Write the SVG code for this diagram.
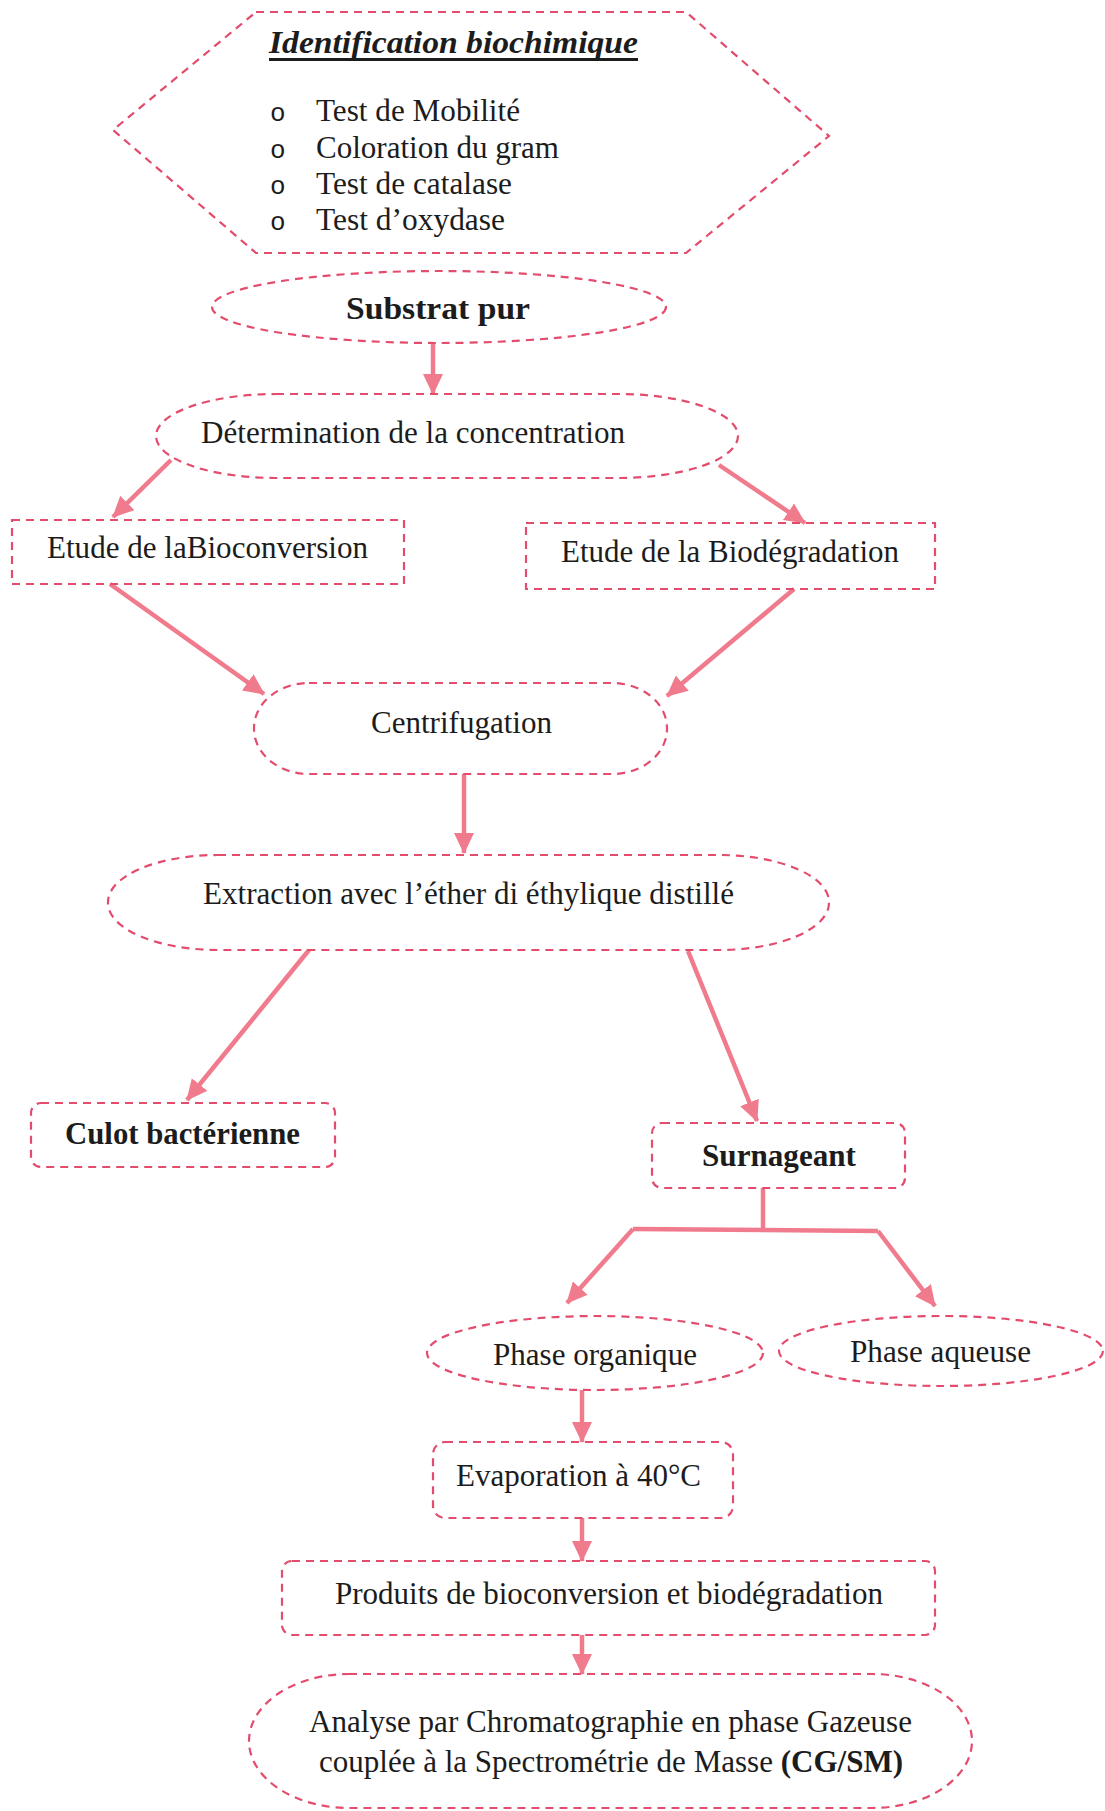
<svg xmlns="http://www.w3.org/2000/svg" width="1105" height="1811" viewBox="0 0 1105 1811">
<defs>
<style>
.nd{fill:none;stroke:#e34c6c;stroke-width:2.2;stroke-dasharray:8 6}
.t{font-family:"Liberation Serif","Times New Roman",serif;font-size:31px;fill:#1c1c1c}
.b{font-weight:bold}
.o{font-family:"Liberation Mono","Courier New",monospace;font-size:26px;fill:#1c1c1c}
.c{fill:none;stroke:#f07b8d;stroke-width:4.5}
</style>
<marker id="ah" markerUnits="userSpaceOnUse" markerWidth="24" markerHeight="22" refX="20" refY="10" orient="auto">
<path d="M0,0 L21,10 L0,20 Z" fill="#f07b8d"/>
</marker>
</defs>
<rect width="1105" height="1811" fill="#ffffff"/>

<g id="connectors">
<line class="c" x1="433" y1="344" x2="433" y2="394" marker-end="url(#ah)"/>
<line class="c" x1="171" y1="460" x2="113" y2="517" marker-end="url(#ah)"/>
<line class="c" x1="719" y1="465" x2="805" y2="523" marker-end="url(#ah)"/>
<line class="c" x1="110" y1="584" x2="264" y2="694" marker-end="url(#ah)"/>
<line class="c" x1="794" y1="589" x2="667" y2="696" marker-end="url(#ah)"/>
<line class="c" x1="464" y1="774" x2="464" y2="853" marker-end="url(#ah)"/>
<line class="c" x1="309" y1="950" x2="187" y2="1100" marker-end="url(#ah)"/>
<line class="c" x1="688" y1="951" x2="757" y2="1121" marker-end="url(#ah)"/>
<polyline class="c" points="763,1188 763,1230"/>
<polyline class="c" points="633,1229 878,1231"/>
<line class="c" x1="633" y1="1229" x2="567" y2="1303" marker-end="url(#ah)"/>
<line class="c" x1="878" y1="1231" x2="935" y2="1306" marker-end="url(#ah)"/>
<line class="c" x1="582" y1="1390" x2="582" y2="1442" marker-end="url(#ah)"/>
<line class="c" x1="582" y1="1518" x2="582" y2="1561" marker-end="url(#ah)"/>
<line class="c" x1="582" y1="1635" x2="582" y2="1674" marker-end="url(#ah)"/>
</g>

<g id="identification">
<polygon class="nd" points="256,12 686,12 829,136 686,253 256,253 113,130"/>
<text class="t b" x="269" y="53" font-style="italic" font-size="33" textLength="369" lengthAdjust="spacingAndGlyphs">Identification biochimique</text>
<line x1="269" y1="59.5" x2="638" y2="59.5" stroke="#1c1c1c" stroke-width="3"/>
<text class="o" x="270" y="121">o</text>
<text class="t" x="316" y="121" textLength="204" lengthAdjust="spacingAndGlyphs">Test de Mobilité</text>
<text class="o" x="270" y="158">o</text>
<text class="t" x="316" y="158" textLength="243" lengthAdjust="spacingAndGlyphs">Coloration du gram</text>
<text class="o" x="270" y="194">o</text>
<text class="t" x="316" y="194" textLength="196" lengthAdjust="spacingAndGlyphs">Test de catalase</text>
<text class="o" x="270" y="230">o</text>
<text class="t" x="316" y="230" textLength="189" lengthAdjust="spacingAndGlyphs">Test d’oxydase</text>
</g>

<g id="substrat">
<ellipse class="nd" cx="439" cy="307" rx="227" ry="36"/>
<text class="t b" x="346" y="319" textLength="184" lengthAdjust="spacingAndGlyphs">Substrat pur</text>
</g>

<g id="determination">
<rect class="nd" x="156" y="394" width="582" height="84" rx="120" ry="42"/>
<text class="t" x="201" y="443" textLength="424" lengthAdjust="spacingAndGlyphs">Détermination de la concentration</text>
</g>

<g id="bioconversion">
<rect class="nd" x="12" y="520" width="392" height="64"/>
<text class="t" x="47" y="558" textLength="321" lengthAdjust="spacingAndGlyphs">Etude de laBioconversion</text>
</g>

<g id="biodegradation">
<rect class="nd" x="526" y="523" width="409" height="66"/>
<text class="t" x="561" y="562" textLength="338" lengthAdjust="spacingAndGlyphs">Etude de la Biodégradation</text>
</g>

<g id="centrifugation">
<rect class="nd" x="254" y="683" width="413" height="91" rx="55" ry="45"/>
<text class="t" x="371" y="733" textLength="181" lengthAdjust="spacingAndGlyphs">Centrifugation</text>
</g>

<g id="extraction">
<rect class="nd" x="108" y="855" width="721" height="95" rx="110" ry="47"/>
<text class="t" x="203" y="904" textLength="531" lengthAdjust="spacingAndGlyphs">Extraction avec l’éther di éthylique distillé</text>
</g>

<g id="culot">
<rect class="nd" x="31" y="1103" width="304" height="64" rx="10"/>
<text class="t b" x="65" y="1144" textLength="235" lengthAdjust="spacingAndGlyphs">Culot bactérienne</text>
</g>

<g id="surnageant">
<rect class="nd" x="652" y="1123" width="253" height="65" rx="10"/>
<text class="t b" x="702" y="1166" textLength="154" lengthAdjust="spacingAndGlyphs">Surnageant</text>
</g>

<g id="organique">
<ellipse class="nd" cx="595" cy="1353" rx="168" ry="37"/>
<text class="t" x="493" y="1365" textLength="204" lengthAdjust="spacingAndGlyphs">Phase organique</text>
</g>

<g id="aqueuse">
<ellipse class="nd" cx="941" cy="1351" rx="162" ry="35"/>
<text class="t" x="850" y="1362" textLength="181" lengthAdjust="spacingAndGlyphs">Phase aqueuse</text>
</g>

<g id="evaporation">
<rect class="nd" x="433" y="1442" width="300" height="76" rx="12"/>
<text class="t" x="456" y="1486" textLength="245" lengthAdjust="spacingAndGlyphs">Evaporation à 40°C</text>
</g>

<g id="produits">
<rect class="nd" x="282" y="1561" width="653" height="74" rx="10"/>
<text class="t" x="335" y="1604" textLength="548" lengthAdjust="spacingAndGlyphs">Produits de bioconversion et biodégradation</text>
</g>

<g id="analyse">
<rect class="nd" x="249" y="1674" width="723" height="134" rx="100" ry="67"/>
<text class="t" x="309" y="1732" textLength="603" lengthAdjust="spacingAndGlyphs">Analyse par Chromatographie en phase Gazeuse</text>
<text class="t" x="319" y="1772" textLength="584" lengthAdjust="spacingAndGlyphs">couplée à la Spectrométrie de Masse <tspan font-weight="bold">(CG/SM)</tspan></text>
</g>
</svg>
